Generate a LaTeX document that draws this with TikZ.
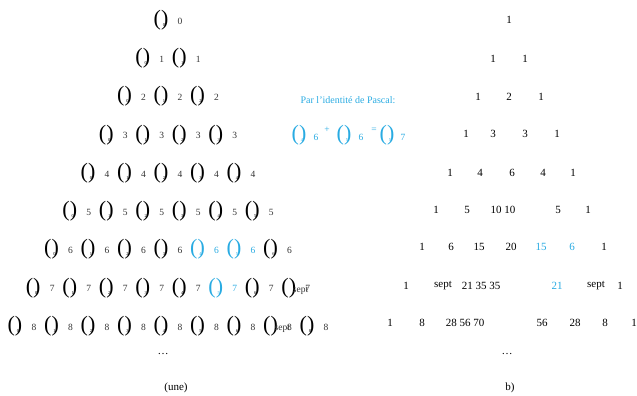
\documentclass[tikz,border=0pt]{standalone}
\usepackage{fontspec}
\setmainfont{Liberation Serif}
\definecolor{pblue}{HTML}{29ABE2}
\tikzset{
  par/.style={inner sep=0pt, font=\fontsize{22}{22}\selectfont},
  kk/.style={inner sep=0pt, font=\fontsize{4.5}{5}\selectfont},
  nn/.style={inner sep=0pt, font=\fontsize{9.5}{10}\selectfont},
  val/.style={inner sep=0pt, font=\fontsize{11}{12}\selectfont},
  captxt/.style={inner sep=0pt, font=\fontsize{11}{12}\selectfont},
}
\begin{document}
\begin{tikzpicture}[x=1pt,y=-1pt]
\path[use as bounding box] (0,0) rectangle (637,396);
% left triangle of binomial symbols
\foreach \n in {0,...,8}{
  \foreach \k in {0,...,\n}{
    \pgfmathsetmacro\xx{161+36.5*(\k-\n/2)}
    \pgfmathsetmacro\yy{20+38.25*\n}
    \pgfmathtruncatemacro\isb{or(and(\n==6,or(\k==4,\k==5)),and(\n==7,\k==5))}
    \ifnum\isb=1 \def\cc{pblue}\def\nc{pblue}\else\def\cc{black}\def\nc{black!80}\fi
    \node[par,text=\cc] (p-\n-\k) at (\xx,\yy) {()};
    \ifnum\k=7
      \node[nn,text=black!80,anchor=west] (k-\n-\k) at (\xx+4,\yy+3) {sept};
    \else
      \node[kk,text=\cc] (k-\n-\k) at (\xx+3,\yy+5) {\k};
    \fi
    \node[nn,text=\nc] (n-\n-\k) at (\xx+19,\yy+1) {\n};
  }
}
\node[captxt] (ldots) at (163,354) {\ldots};
\node[captxt] (lcap) at (176,388) {(une)};
% Pascal identity
\node[inner sep=0pt, font=\fontsize{10}{12}\selectfont, text=pblue] (ptitle) at (348,100) {Par l'identité de Pascal:};
\node[par,text=pblue] (f1) at (299,135) {()};
\node[kk,text=pblue] (fk1) at (302,140) {4};
\node[nn,text=pblue] (fn1) at (316,137) {6};
\node[nn,text=pblue] (plus) at (327,130) {+};
\node[par,text=pblue] (f2) at (344,135) {()};
\node[kk,text=pblue] (fk2) at (347,140) {5};
\node[nn,text=pblue] (fn2) at (361,137) {6};
\node[nn,text=pblue] (eq) at (374,130) {=};
\node[par,text=pblue] (f3) at (387,135) {()};
\node[kk,text=pblue] (fk3) at (390,140) {5};
\node[nn,text=pblue] (fn3) at (403,137) {7};
% right triangle of values
\foreach \x/\y/\t/\c [count=\i] in {
  509/20/1/black,
  493/59/1/black, 525/59/1/black,
  478/97/1/black, 509/97/2/black, 541/97/1/black,
  466/134/1/black, 493/134/3/black, 525/134/3/black, 557/134/1/black,
  450/173/1/black, 480/173/4/black, 512/173/6/black, 543/173/4/black, 573/173/1/black,
  436/210/1/black, 467/210/5/black, 503/210/10 10/black, 558/210/5/black, 588/210/1/black,
  422/247/1/black, 451/247/6/black, 479/247/15/black, 511/247/20/black, 541/247/15/pblue, 572/247/6/pblue, 604/247/1/black,
  406/286/1/black, 443/286/sept/black, 481/286/21 35 35/black, 557/286/21/pblue, 596/286/sept/black, 620/286/1/black,
  390/323/1/black, 422/323/8/black, 465/323/28 56 70/black, 542/323/56/black, 575/323/28/black, 605/323/8/black, 634/323/1/black}
  \node[val,text=\c] (r\i) at (\x,\y) {\t};
\node[captxt] (rdots) at (507,354) {\ldots};
\node[captxt] (rcap) at (510,388) {b)};
\end{tikzpicture}
\end{document}
